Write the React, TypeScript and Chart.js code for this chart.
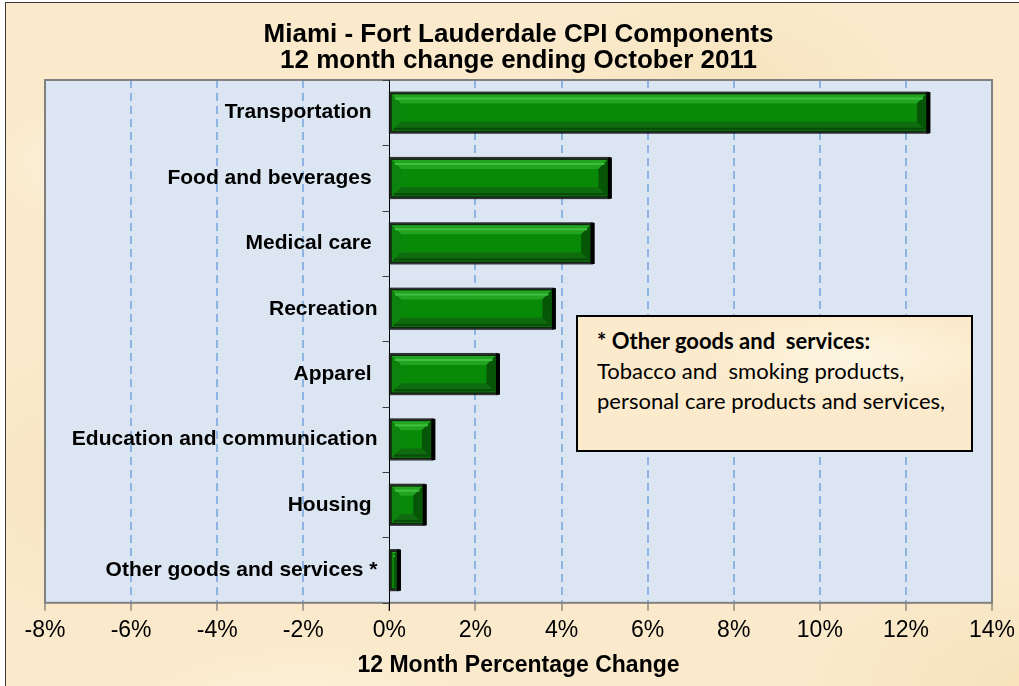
import React, { useEffect, useRef } from 'react';
import { Chart, registerables } from 'chart.js';

Chart.register(...registerables);

const categories = [
  'Transportation ',
  'Food and beverages ',
  'Medical care ',
  'Recreation',
  'Apparel ',
  'Education and communication',
  'Housing ',
  'Other goods and services *',
];
const changes = [12.5, 5.1, 4.7, 3.8, 2.5, 1.0, 0.8, 0.2];
const xMin = -8;
const xMax = 14;
const xStep = 2;
const titleLines = ['Miami - Fort Lauderdale CPI Components', '12 month change ending October 2011'];
const xAxisTitle = '12 Month Percentage Change';
const noteTitle = '* Other goods and  services:';
const noteLines = ['Tobacco and  smoking products,', 'personal care products and services,'];

const FONT = '"Liberation Sans", Arial, sans-serif';

const decorPlugin = {
  id: 'decor',
  beforeDraw(chart: any) {
    const { ctx, chartArea: a } = chart;
    ctx.save();
    ctx.fillStyle = '#DCE6F2';
    ctx.fillRect(a.left, a.top, a.right - a.left, a.bottom - a.top);
    ctx.restore();
  },
  beforeDatasetsDraw(chart: any) {
    const { ctx, chartArea: a, scales } = chart;
    const x0 = Math.round(scales.x.getPixelForValue(0)) + 0.5;
    ctx.save();
    ctx.strokeStyle = '#808080';
    ctx.lineWidth = 2;
    ctx.strokeRect(a.left, a.top, a.right - a.left, a.bottom - a.top);
    ctx.strokeStyle = '#000';
    ctx.lineWidth = 1;
    ctx.beginPath();
    ctx.moveTo(x0, a.top);
    ctx.lineTo(x0, a.bottom + 8);
    ctx.stroke();
    const ys = scales.y;
    const n = categories.length;
    ctx.strokeStyle = '#404040';
    for (let i = 0; i <= n; i++) {
      let yy: number;
      if (i === 0) yy = a.top;
      else if (i === n) yy = a.bottom;
      else yy = (ys.getPixelForTick(i - 1) + ys.getPixelForTick(i)) / 2;
      yy = Math.round(yy) + 0.5;
      ctx.beginPath();
      ctx.moveTo(x0 - 7, yy);
      ctx.lineTo(x0, yy);
      ctx.stroke();
    }
    ctx.fillStyle = '#000';
    ctx.font = 'bold 21px ' + FONT;
    ctx.textAlign = 'right';
    ctx.textBaseline = 'middle';
    categories.forEach((c, i) => {
      ctx.fillText(c, x0 - 12, ys.getPixelForTick(i));
    });
    ctx.restore();
  },
  afterDatasetsDraw(chart: any) {
    const { ctx } = chart;
    const meta = chart.getDatasetMeta(0);
    ctx.save();
    meta.data.forEach((bar: any) => {
      const p = bar.getProps(['x', 'y', 'base', 'height'], true);
      const x1 = Math.min(p.base, p.x);
      const x2 = Math.max(p.base, p.x);
      const top = p.y - p.height / 2;
      const bot = p.y + p.height / 2;
      // outer dark outline
      ctx.strokeStyle = 'rgba(20,20,20,0.85)';
      ctx.lineWidth = 3;
      ctx.strokeRect(x1, top, x2 - x1, bot - top);
      const L = x1 + 1.5;
      const R = x2 - 1.5;
      const T = top + 1.5;
      const B = bot - 1.5;
      if (R - L > 2) {
        const b = Math.min(9, (R - L) / 2, (B - T) / 2);
        const poly = (pts: number[][], col: string) => {
          ctx.fillStyle = col;
          ctx.beginPath();
          ctx.moveTo(pts[0][0], pts[0][1]);
          for (let k = 1; k < pts.length; k++) ctx.lineTo(pts[k][0], pts[k][1]);
          ctx.closePath();
          ctx.fill();
        };
        poly([[L, T], [R, T], [R - b, T + b], [L + b, T + b]], '#22A322');
        poly([[L, B], [R, B], [R - b, B - b], [L + b, B - b]], '#0E6B0E');
        poly([[L, T], [L + b, T + b], [L + b, B - b], [L, B]], '#0D820D');
        poly([[R, T], [R - b, T + b], [R - b, B - b], [R, B]], '#075507');
        ctx.fillStyle = '#3FC03F';
        ctx.fillRect(L + 3, T + 3, R - L - 6, 2);
        ctx.fillStyle = '#0A4A0A';
        ctx.fillRect(L + 2, B - 3, R - L - 4, 2);
      }
      ctx.fillStyle = '#000';
      ctx.fillRect(x2 - 1, top - 1, 4, bot - top + 2);
    });
    ctx.restore();
  },
};

export default function App() {
  const ref = useRef<HTMLCanvasElement | null>(null);
  useEffect(() => {
    if (!ref.current) return;
    const chart = new Chart(ref.current, {
      type: 'bar',
      data: {
        labels: categories,
        datasets: [
          {
            data: changes,
            backgroundColor: '#088A08',
            borderWidth: 0,
            barPercentage: 0.6,
            categoryPercentage: 1,
          },
        ],
      },
      options: {
        indexAxis: 'y',
        animation: false,
        responsive: false,
        devicePixelRatio: 1,
        layout: { padding: { left: 45, right: 124, top: 0, bottom: 0 } },
        plugins: {
          legend: { display: false },
          tooltip: { enabled: false },
          title: {
            display: true,
            text: titleLines,
            color: '#000',
            font: { family: FONT, size: 26, weight: 'bold', lineHeight: 1.0 },
            padding: { top: 22, bottom: 6 },
          },
        },
        scales: {
          x: {
            type: 'linear',
            min: xMin,
            max: xMax,
            ticks: {
              stepSize: xStep,
              color: '#000',
              font: { family: FONT, size: 23 },
              padding: 6,
              callback: (v: any) => v + '%',
            },
            grid: {
              color: (c: any) => {
                const v = c.tick ? c.tick.value : null;
                return v === xMin || v === xMax || v === 0 ? 'rgba(0,0,0,0)' : '#8DB4E2';
              },
              lineWidth: 2,
              tickColor: '#595959',
              tickLength: 8,
              tickWidth: 1,
            },
            border: { display: false, dash: [8, 5] },
            title: {
              display: true,
              text: xAxisTitle,
              color: '#000',
              font: { family: FONT, size: 23, weight: 'bold' },
              padding: { top: 1, bottom: 7 },
            },
          },
          y: {
            type: 'category',
            display: false,
            grid: { display: false },
          },
        },
      },
      plugins: [decorPlugin],
    } as any);
    return () => chart.destroy();
  }, []);

  const parchment =
    'radial-gradient(ellipse 300px 120px at 15% 20%, rgba(255,250,236,0.7), rgba(255,250,236,0) 70%),' +
    'radial-gradient(ellipse 260px 140px at 60% 10%, rgba(244,222,180,0.5), rgba(244,222,180,0) 70%),' +
    'radial-gradient(ellipse 320px 160px at 85% 85%, rgba(243,219,176,0.55), rgba(243,219,176,0) 70%),' +
    'radial-gradient(ellipse 280px 120px at 25% 90%, rgba(255,248,230,0.6), rgba(255,248,230,0) 70%),' +
    'radial-gradient(ellipse 200px 200px at 5% 60%, rgba(245,224,186,0.5), rgba(245,224,186,0) 70%),' +
    '#FAEACB';

  return (
    <div
      style={{
        position: 'fixed',
        left: 0,
        top: 0,
        width: 1019,
        height: 686,
        overflow: 'hidden',
        background: '#fff',
      }}
    >
      <div
        style={{
          position: 'absolute',
          left: 5,
          top: 2,
          width: 1200,
          height: 800,
          borderLeft: '1.5px solid #3A3A3A',
          borderTop: '1.5px solid #3A3A3A',
          background: parchment,
        }}
      />
      <canvas
        ref={ref}
        width={1116}
        height={686}
        style={{ position: 'absolute', left: 0, top: 0, width: 1116, height: 686 }}
      />
      <div
        style={{
          position: 'absolute',
          left: 576,
          top: 315,
          width: 397,
          height: 137,
          boxSizing: 'border-box',
          border: '2px solid #000',
          background:
            'radial-gradient(ellipse 200px 60px at 70% 30%, rgba(255,250,236,0.7), rgba(255,250,236,0) 70%), #FBEBCC',
          padding: '9px 0 0 19px',
          fontFamily: 'Lato, "Open Sans", sans-serif',
          fontSize: 22,
          lineHeight: '30px',
          color: '#000',
          whiteSpace: 'pre',
        }}
      >
        <div style={{ fontWeight: 'bold' }}>{noteTitle}</div>
        {noteLines.map((l) => (
          <div key={l}>{l}</div>
        ))}
      </div>
    </div>
  );
}
